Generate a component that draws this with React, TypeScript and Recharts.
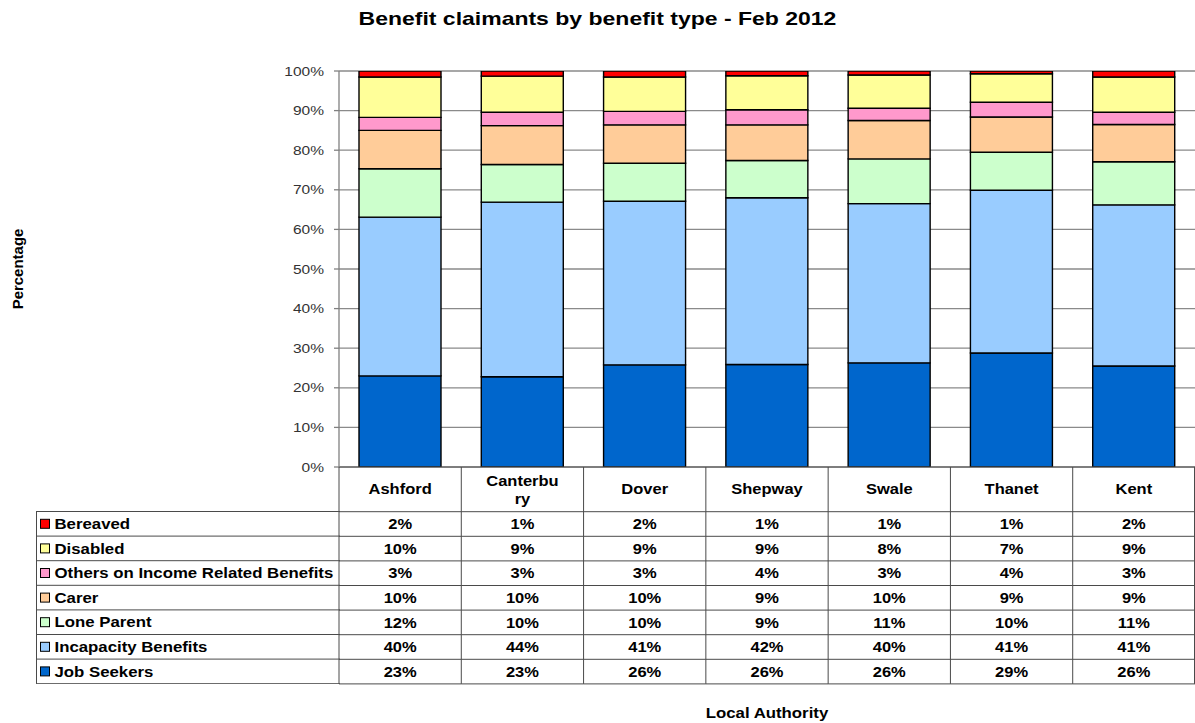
import React from 'react';
import { BarChart, Bar, XAxis, YAxis, CartesianGrid, Legend, Label } from 'recharts';

// ---- Data ----
const CATEGORIES = ['Ashford', 'Canterbury', 'Dover', 'Shepway', 'Swale', 'Thanet', 'Kent'];
const JOB_SEEKERS = [23.0, 22.8, 25.8, 25.9, 26.3, 28.8, 25.5];
const INCAPACITY = [40.1, 44.1, 41.3, 42.1, 40.2, 41.1, 40.7];
const LONE_PARENT = [12.2, 9.5, 9.6, 9.4, 11.3, 9.6, 10.9];
const CARER = [9.7, 9.8, 9.7, 9.0, 9.7, 8.9, 9.4];
const OTHERS = [3.3, 3.4, 3.4, 3.8, 3.1, 3.7, 3.1];
const DISABLED = [10.2, 9.1, 8.7, 8.6, 8.4, 7.2, 8.9];
const BEREAVED = [1.5, 1.3, 1.5, 1.2, 1.0, 0.7, 1.5];
const Y_TICKS = [0, 10, 20, 30, 40, 50, 60, 70, 80, 90, 100];

const TITLE = 'Benefit claimants by benefit type - Feb 2012';
const X_TITLE = 'Local Authority';
const Y_TITLE = 'Percentage';

const SERIES = [
  { key: 'js', name: 'Job Seekers', color: '#0066CC', values: JOB_SEEKERS },
  { key: 'inc', name: 'Incapacity Benefits', color: '#99CCFF', values: INCAPACITY },
  { key: 'lp', name: 'Lone Parent', color: '#CCFFCC', values: LONE_PARENT },
  { key: 'carer', name: 'Carer', color: '#FFCC99', values: CARER },
  { key: 'oth', name: 'Others on Income Related Benefits', color: '#FF99CC', values: OTHERS },
  { key: 'dis', name: 'Disabled', color: '#FFFF99', values: DISABLED },
  { key: 'ber', name: 'Bereaved', color: '#FF0000', values: BEREAVED },
];

const data = CATEGORIES.map((name, i) => {
  const row: Record<string, any> = { name };
  SERIES.forEach((s) => {
    row[s.key] = s.values[i];
  });
  return row;
});

// ---- Layout constants ----
const W = 1195;
const H = 723;
const FONT = '"Liberation Sans", Arial, Helvetica, sans-serif';
const HEADER_H = 44.7;
const ROW_H = 24.6;
const LINE = '#4a4a4a';
const TABLE_ROWS = [...SERIES].reverse();
const TABLE_BOTTOM_OFFSET = HEADER_H + ROW_H * TABLE_ROWS.length;

// Text stretched horizontally, like the reference rendering
const SText = (props: any) => {
  const { x, y, sx = 1.12, anchor = 'middle', size = 15, bold = true, fill = '#000', rotate = 0, children } = props;
  const t = `translate(${x} ${y})${rotate ? ` rotate(${rotate})` : ''} scale(${sx} 1)`;
  return (
    <text x={0} y={0} transform={t} textAnchor={anchor} dominantBaseline="central" fontFamily={FONT}
      fontSize={size} fontWeight={bold ? 'bold' : 'normal'} fill={fill}>
      {children}
    </text>
  );
};

const YTick = (props: any) => {
  const { x, y, payload } = props;
  return (
    <SText x={x} y={y} anchor="end" size={13.5} bold={false} fill="#333" sx={1.15}>
      {`${payload.value}%`}
    </SText>
  );
};

const TableColumn = (props: any) => {
  const { x, y, payload } = props;
  const index = payload.index;
  const half = payload.offset && payload.offset > 0 ? payload.offset : (W - 339) / CATEGORIES.length / 2;
  const left = x - half;
  const right = x + half;
  const name: string = payload.value;
  const lines = name.length > 8 ? [name.slice(0, 8), name.slice(8)] : [name];
  const top = y;
  const rowTop = top + HEADER_H;
  const bottom = top + TABLE_BOTTOM_OFFSET;
  return (
    <g>
      <line x1={left} x2={left} y1={top} y2={bottom} stroke={LINE} strokeWidth={1} />
      {index === CATEGORIES.length - 1 && (
        <line x1={right - 0.5} x2={right - 0.5} y1={top} y2={bottom} stroke={LINE} strokeWidth={1} />
      )}
      {lines.map((ln, li) => (
        <SText key={li} x={x} y={lines.length === 1 ? top + 22 : top + 13.7 + li * 18.3} sx={1.1}>
          {ln}
        </SText>
      ))}
      {TABLE_ROWS.map((s, r) => (
        <g key={s.key}>
          <line x1={left} x2={right} y1={rowTop + r * ROW_H} y2={rowTop + r * ROW_H} stroke={LINE} strokeWidth={1} />
          <SText x={x} y={rowTop + r * ROW_H + ROW_H / 2} sx={1.1}>
            {`${Math.round(s.values[index])}%`}
          </SText>
        </g>
      ))}
      <line x1={left} x2={right} y1={bottom} y2={bottom} stroke={LINE} strokeWidth={1} />
    </g>
  );
};

const LegendTable = (props: any) => {
  const payload: any[] = props.payload || [];
  const rows = TABLE_ROWS.map((s) => {
    const p = payload.find((e: any) => e.dataKey === s.key);
    return { name: p ? p.value : s.name, color: p ? p.color : s.color };
  });
  const width = 304;
  const height = ROW_H * rows.length + 1;
  return (
    <svg width={width} height={height} style={{ display: 'block' }}>
      <line x1={0.5} x2={0.5} y1={0.5} y2={ROW_H * rows.length + 0.5} stroke={LINE} />
      {rows.map((r, i) => (
        <g key={r.name}>
          <line x1={0} x2={width} y1={0.5 + i * ROW_H} y2={0.5 + i * ROW_H} stroke={LINE} />
          <rect x={4.5} y={0.5 + i * ROW_H + ROW_H / 2 - 4.5} width={9} height={9} fill={r.color}
            stroke="#000" strokeWidth={1} />
          <SText x={18.5} y={0.5 + i * ROW_H + ROW_H / 2} anchor="start" sx={1.12}>
            {r.name}
          </SText>
        </g>
      ))}
      <line x1={0} x2={width} y1={0.5 + rows.length * ROW_H} y2={0.5 + rows.length * ROW_H} stroke={LINE} />
    </svg>
  );
};

const YTitle = (props: any) => {
  const vb = props.viewBox || { x: 0, y: 71, width: 339, height: 396 };
  return (
    <SText x={18} y={vb.y + vb.height / 2} rotate={-90} size={14} sx={1.07}>
      {Y_TITLE}
    </SText>
  );
};

const XTitle = (props: any) => {
  const vb = props.viewBox || { x: 339, y: 467, width: 856, height: 256 };
  return (
    <SText x={vb.x + vb.width / 2} y={713} sx={1.12}>
      {X_TITLE}
    </SText>
  );
};

export default function App() {
  return (
    <div style={{ position: 'absolute', left: 0, top: 0, width: W, height: H, background: '#fff', fontFamily: FONT }}>
      <div style={{ position: 'absolute', left: 0, top: 8, width: W, textAlign: 'center' }}>
        <span style={{ display: 'inline-block', fontSize: 19, fontWeight: 'bold', color: '#000', whiteSpace: 'nowrap',
          transform: 'scaleX(1.21)', transformOrigin: 'center' }}>
          {TITLE}
        </span>
      </div>
      <BarChart width={W} height={H} data={data} margin={{ top: 71, right: 0, bottom: 0, left: 0 }} barSize={82}>
        <CartesianGrid vertical={false} stroke="#8a8a8a" strokeWidth={1.3} />
        <XAxis dataKey="name" height={256} interval={0} tickLine={false} tickSize={0} tickMargin={0}
          axisLine={{ stroke: '#555', strokeWidth: 1 }} tick={(p: any) => <TableColumn {...p} />}>
          <Label content={<XTitle />} />
        </XAxis>
        <YAxis width={339} domain={[0, 100]} allowDataOverflow ticks={Y_TICKS} interval={0} tickSize={5}
          tickMargin={10} axisLine={{ stroke: '#808080', strokeWidth: 1.3 }} tickLine={{ stroke: '#808080', strokeWidth: 1.3 }}
          tick={(p: any) => <YTick {...p} />}>
          <Label content={<YTitle />} />
        </YAxis>
        <Legend layout="vertical" align="center" verticalAlign="middle" content={<LegendTable />}
          wrapperStyle={{ position: 'absolute', left: 35.5, top: 511.2, width: 304, height: 175, margin: 0, padding: 0 }} />
        {SERIES.map((s) => (
          <Bar key={s.key} dataKey={s.key} name={s.name} stackId="a" fill={s.color} stroke="#000"
            strokeWidth={1.4} isAnimationActive={false} />
        ))}
      </BarChart>
    </div>
  );
}
